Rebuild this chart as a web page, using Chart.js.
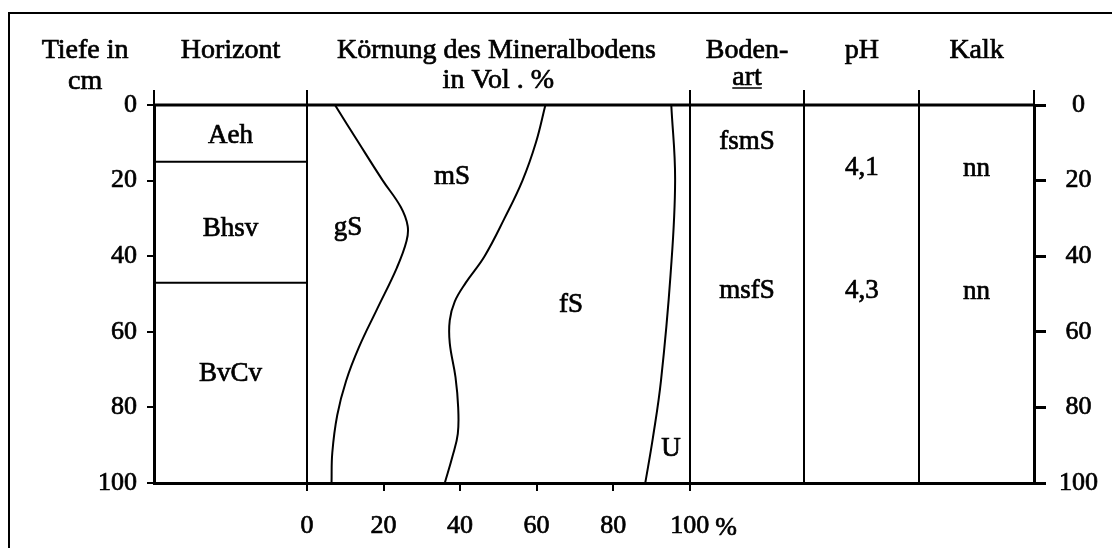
<!DOCTYPE html>
<html><head><meta charset="utf-8">
<script src="https://cdn.jsdelivr.net/npm/chart.js@4.4.0/dist/chart.umd.min.js"></script>
<style>html,body{margin:0;padding:0;background:#fff;overflow:hidden}</style>
</head><body>
<canvas id="c" width="1112" height="548"></canvas>
<script>
// ---- data ----
const depthTicks = [0, 20, 40, 60, 80, 100];
const pctTicks = [0, 20, 40, 60, 80, 100];

// boundary gS / mS
const gsDepth = [0, 10, 20, 27, 32, 36, 43, 54, 64, 73, 82, 92, 100];
const gsPct   = [7.3, 13.5, 19.8, 24.5, 26.3, 26.0, 23.5, 18.3, 13.6, 10.2, 7.9, 6.6, 6.4];
// boundary mS / fS
const msDepth = [0, 10, 20, 30, 40, 47, 52, 57, 63, 72, 80, 87, 93, 100];
const msPct   = [62.3, 59.8, 56.3, 51.6, 46.4, 41.5, 38.6, 37.3, 37.3, 38.8, 39.5, 39.4, 38.0, 36.0];
// boundary fS / U
const fsDepth = [0, 20, 45, 73, 88, 100];
const fsPct   = [95.2, 96.2, 95.0, 92.5, 90.4, 88.4];

const horizonBounds = [15, 47];
const horizonNames = ['Aeh', 'Bhsv', 'BvCv'];
const horizonLabelDepth = [7.7, 32.3, 70.6];

const fractionNames = ['gS', 'mS', 'fS', 'U'];
const fractionLabelPct = [10.7, 37.9, 69, 95.1];
const fractionLabelDepth = [32, 18.5, 52.4, 90.5];

const soilTypes = ['fsmS', 'msfS'];
const soilTypeDepth = [9.3, 48.7];
const phValues = ['4,1', '4,3'];
const phDepth = [16.1, 48.7];
const limeValues = ['nn', 'nn'];
const limeDepth = [16.4, 49];

// column layout in x-scale units (grain size column = 0..100 %)
const columnEdges = [-40, 0, 100, 130, 160, 190];
const headerTitles = ['Tiefe in', 'cm', 'Horizont', 'Körnung des Mineralbodens', 'in Vol . %', 'Boden-', 'art', 'pH', 'Kalk'];

const FONT = '"Liberation Serif", "Times New Roman", serif';

function series(depths, pcts) {
  return {
    data: depths.map((d, i) => ({ x: pcts[i], y: d })),
    showLine: true, borderColor: '#000', borderWidth: 2,
    pointRadius: 0, tension: 0.4, fill: false
  };
}

function txt(ctx, t, px, py) {
  ctx.fillText(t, px, py);
  ctx.strokeText(t, px, py);
}

const tablePlugin = {
  id: 'table',
  afterDraw(chart) {
    const { ctx, scales: { x, y } } = chart;
    const X = v => x.getPixelForValue(v), Y = v => y.getPixelForValue(v);
    ctx.save();
    ctx.strokeStyle = '#000';
    // outer frame
    ctx.lineWidth = 2;
    ctx.beginPath(); ctx.moveTo(9, 548); ctx.lineTo(9, 13); ctx.lineTo(1112, 13); ctx.stroke();
    // column borders
    ctx.lineWidth = 2;
    columnEdges.forEach(c => {
      ctx.beginPath(); ctx.moveTo(Math.round(X(c)), Y(-4)); ctx.lineTo(Math.round(X(c)), Y(100)); ctx.stroke();
    });
    // top line
    ctx.lineWidth = 3;
    ctx.beginPath(); ctx.moveTo(X(-40), Y(0)); ctx.lineTo(X(190), Y(0)); ctx.stroke();
    // horizon boundaries
    ctx.lineWidth = 2;
    horizonBounds.forEach(d => {
      ctx.beginPath(); ctx.moveTo(X(-40), Y(d)); ctx.lineTo(X(0), Y(d)); ctx.stroke();
    });

    ctx.fillStyle = '#000';
    ctx.textAlign = 'center';
    ctx.lineWidth = 0.7;
    ctx.font = '28px ' + FONT;
    // headers
    ctx.textBaseline = 'alphabetic';
    const hx = [-58, -58, -20, 49.5, 50, 115, 115, 145, 175];
    const hy = [58, 89, 58, 58, 88, 58, 85, 58, 58];
    headerTitles.forEach((t, i) => txt(ctx, t, X(hx[i]), hy[i]));
    // underline of "art"
    const aw = ctx.measureText(headerTitles[6]).width;
    ctx.lineWidth = 1.5;
    ctx.beginPath(); ctx.moveTo(X(115) - aw / 2, 88); ctx.lineTo(X(115) + aw / 2, 88); ctx.stroke();
    ctx.lineWidth = 0.7;
    // '%' after the 100 tick
    ctx.font = '26px ' + FONT;
    txt(ctx, '%', X(109.5), 535);

    ctx.font = '27px ' + FONT;
    ctx.textBaseline = 'middle';
    const dy = 2;
    horizonNames.forEach((t, i) => txt(ctx, t, X(-20), Y(horizonLabelDepth[i]) + dy));
    fractionNames.forEach((t, i) => txt(ctx, t, X(fractionLabelPct[i]), Y(fractionLabelDepth[i]) + dy));
    soilTypes.forEach((t, i) => txt(ctx, t, X(115), Y(soilTypeDepth[i]) + dy));
    phValues.forEach((t, i) => txt(ctx, t, X(145), Y(phDepth[i]) + dy));
    limeValues.forEach((t, i) => txt(ctx, t, X(175), Y(limeDepth[i]) + dy));
    ctx.restore();
  }
};

const tickFont = { family: FONT, size: 26 };
const tickCommon = { color: '#000', font: tickFont, textStrokeColor: '#000', textStrokeWidth: 0.7 };

new Chart(document.getElementById('c'), {
  type: 'scatter',
  data: { datasets: [series(gsDepth, gsPct), series(msDepth, msPct), series(fsDepth, fsPct)] },
  options: {
    responsive: false, animation: false,
    layout: { padding: { top: 105, left: 0, right: 0, bottom: 0 } },
    plugins: { legend: { display: false }, tooltip: { enabled: false } },
    scales: {
      x: {
        type: 'linear', position: 'bottom', min: -40, max: 190,
        afterBuildTicks: s => { s.ticks = pctTicks.map(v => ({ value: v })); },
        afterFit: s => { s.height = 65; },
        grid: { drawOnChartArea: false, drawTicks: true, tickLength: 8, color: '#000', lineWidth: 2 },
        border: { display: true, color: '#000', width: 3 },
        ticks: Object.assign({ padding: 20, maxRotation: 0, autoSkip: false }, tickCommon)
      },
      y: {
        type: 'linear', position: 'left', min: 0, max: 100, reverse: true,
        afterBuildTicks: s => { s.ticks = depthTicks.map(v => ({ value: v })); },
        afterFit: s => { s.width = 154; },
        grid: { drawOnChartArea: false, tickLength: 7, color: '#000', lineWidth: 2 },
        border: { display: true, color: '#000', width: 3 },
        ticks: Object.assign({ padding: 10 }, tickCommon)
      },
      y2: {
        type: 'linear', position: 'right', min: 0, max: 100, reverse: true,
        afterBuildTicks: s => { s.ticks = depthTicks.map(v => ({ value: v })); },
        afterFit: s => { s.width = 78; },
        grid: { drawOnChartArea: false, tickLength: 12, color: '#000', lineWidth: 3 },
        border: { display: true, color: '#000', width: 3 },
        ticks: Object.assign({ padding: 13, crossAlign: 'center' }, tickCommon)
      }
    }
  },
  plugins: [tablePlugin]
});
</script>
</body></html>
